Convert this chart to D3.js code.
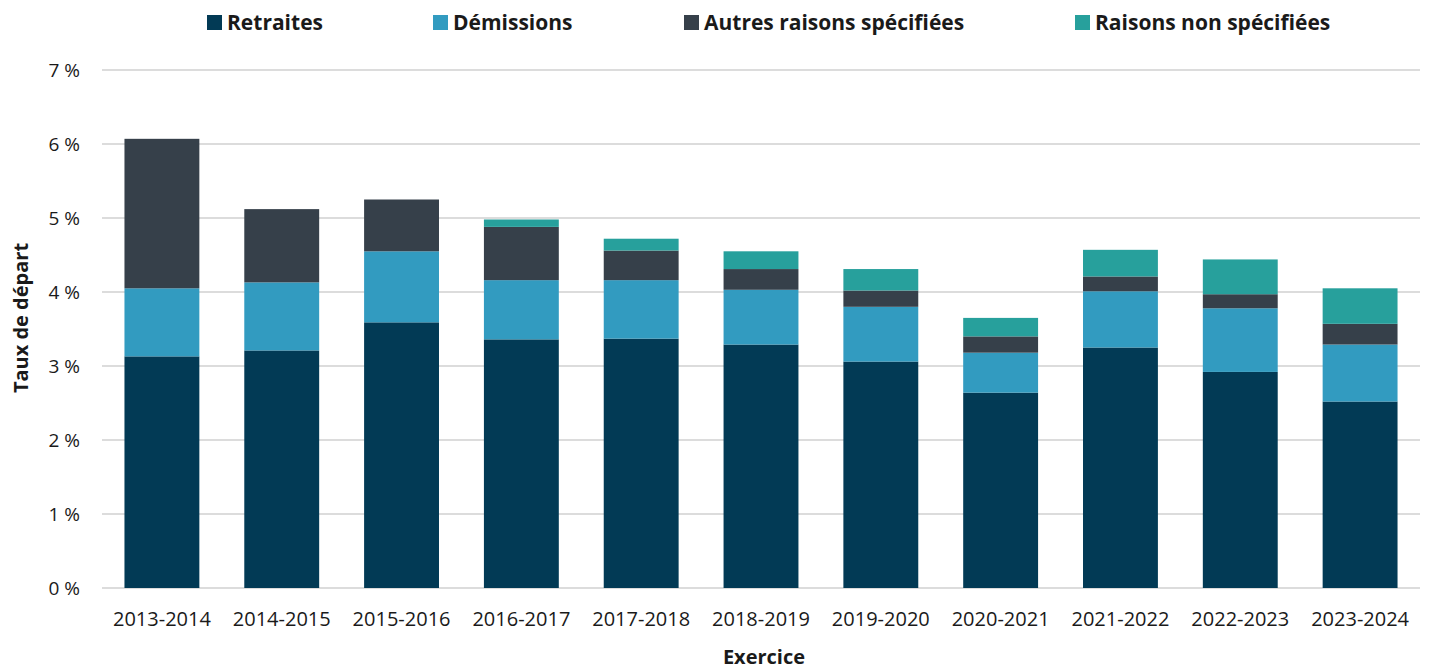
<!DOCTYPE html>
<html>
<head>
<meta charset="utf-8">
<script src="https://cdn.jsdelivr.net/npm/d3@7"></script>
<style>
  body { margin: 0; background: #fff; }
  text { font-family: "Open Sans", "Noto Sans", sans-serif; fill: #1a1a1a; }
  .grid line { stroke: #d0d0d0; stroke-width: 1.5; }
</style>
</head>
<body>
<svg class="chart"></svg>
<script>
// Data
const YEARS = ["2013-2014", "2014-2015", "2015-2016", "2016-2017", "2017-2018", "2018-2019",
               "2019-2020", "2020-2021", "2021-2022", "2022-2023", "2023-2024"];
const RETRAITES   = [3.13, 3.21, 3.59, 3.36, 3.37, 3.29, 3.06, 2.64, 3.25, 2.92, 2.52];
const DEMISSIONS  = [0.92, 0.92, 0.96, 0.80, 0.79, 0.74, 0.74, 0.54, 0.76, 0.86, 0.77];
const AUTRES      = [2.02, 0.99, 0.70, 0.72, 0.40, 0.28, 0.22, 0.22, 0.20, 0.19, 0.28];
const NON_SPEC    = [0.00, 0.00, 0.00, 0.10, 0.16, 0.24, 0.29, 0.25, 0.36, 0.47, 0.48];
const SERIES_NAMES = ["Retraites", "Démissions", "Autres raisons spécifiées", "Raisons non spécifiées"];
const Y_TICKS = [0, 1, 2, 3, 4, 5, 6, 7];

const COLORS = ["#023a55", "#329bc0", "#36404a", "#27a09c"];

// Chart constants
const WIDTH = 1431, HEIGHT = 671;
const MARGINS = { top: 70, right: 11, bottom: 83, left: 102 };
const CHART_W = WIDTH - MARGINS.left - MARGINS.right;
const CHART_H = HEIGHT - MARGINS.top - MARGINS.bottom;

const svg = d3.select(".chart").attr("width", WIDTH).attr("height", HEIGHT);
const g = svg.append("g").attr("transform", `translate(${MARGINS.left},${MARGINS.top})`);

const table = YEARS.map((y, i) => ({
    year: y, s0: RETRAITES[i], s1: DEMISSIONS[i], s2: AUTRES[i], s3: NON_SPEC[i]
}));
const stack = d3.stack().keys(["s0", "s1", "s2", "s3"])(table);

const x = d3.scaleBand().domain(YEARS).range([0, CHART_W]).paddingInner(0.375).paddingOuter(0.1875);
const y = d3.scaleLinear().domain([0, 7]).range([CHART_H, 0]);

// gridlines
g.append("g").attr("class", "grid")
    .selectAll("line").data(Y_TICKS).join("line")
    .attr("x1", 0).attr("x2", CHART_W)
    .attr("y1", d => y(d)).attr("y2", d => y(d));

// y axis labels
const yAxis = g.append("g").call(d3.axisLeft(y).tickValues(Y_TICKS).tickSize(0).tickPadding(22)
    .tickFormat(d => d + " %"));
yAxis.select(".domain").remove();
yAxis.selectAll("text").style("font-size", "19px").attr("fill", "#1a1a1a");

// bars
g.append("g").selectAll("g").data(stack).join("g")
    .attr("fill", (d, i) => COLORS[i])
    .selectAll("rect").data(d => d).join("rect")
    .attr("x", d => x(d.data.year))
    .attr("width", x.bandwidth())
    .attr("y", d => y(d[1]))
    .attr("height", d => Math.max(0, y(d[0]) - y(d[1])));

// x axis labels
const xAxis = g.append("g").attr("transform", `translate(0,${CHART_H})`)
    .call(d3.axisBottom(x).tickSize(0).tickPadding(24));
xAxis.select(".domain").remove();
xAxis.selectAll("text").style("font-size", "20px").attr("fill", "#1a1a1a");

// axis titles
svg.append("text")
    .attr("x", MARGINS.left + CHART_W / 2 + 3).attr("y", 664)
    .attr("text-anchor", "middle")
    .style("font-size", "20px").style("font-weight", "bold")
    .text("Exercice");
svg.append("text")
    .attr("transform", `translate(28, ${MARGINS.top + 248}) rotate(-90)`)
    .attr("text-anchor", "middle")
    .style("font-size", "20px").style("font-weight", "bold")
    .text("Taux de départ");

// legend
const LEGEND_X = [207, 433, 684, 1075];
const legend = svg.append("g").selectAll("g").data(SERIES_NAMES).join("g")
    .attr("transform", (d, i) => `translate(${LEGEND_X[i]}, 14)`);
legend.append("rect").attr("width", 15).attr("height", 15).attr("y", 1)
    .attr("fill", (d, i) => COLORS[i]);
legend.append("text").attr("x", 20).attr("y", 16)
    .style("font-size", "21px").style("font-weight", "bold")
    .text(d => d);
</script>
</body>
</html>
